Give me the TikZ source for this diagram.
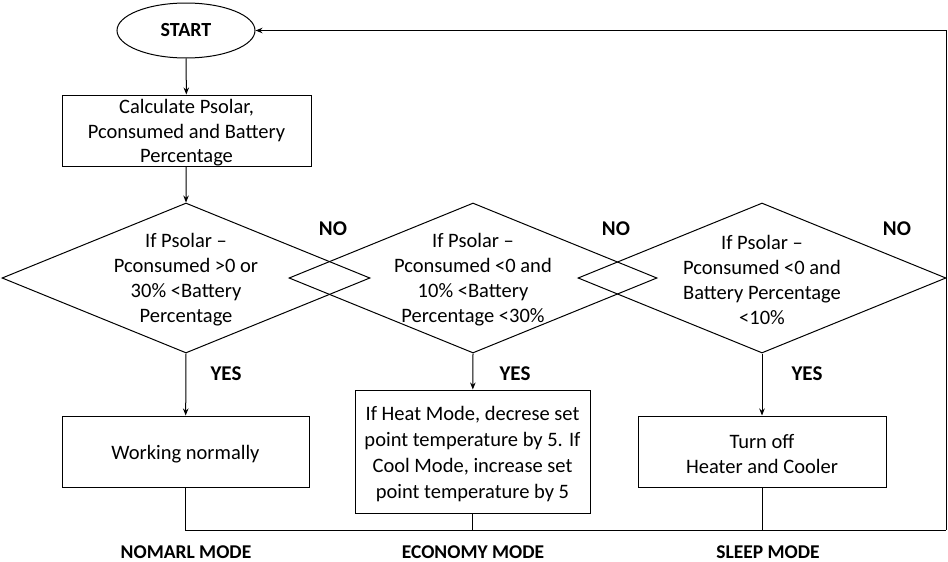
\documentclass[tikz,border=0pt]{standalone}
\usepackage{fontspec}
\setmainfont{Carlito}
\usetikzlibrary{shapes.geometric,arrows.meta}
\begin{document}
\begin{tikzpicture}[x=1pt,y=-1pt,line width=1pt,
  box/.style={draw,rectangle,inner sep=0pt},
  ptext/.style={align=center,inner sep=0pt,font=\fontsize{20.5}{24.5}\selectfont},
  decision/.style={draw,diamond,inner sep=0pt,minimum width=368pt,minimum height=150pt},
  dtext/.style={align=center,inner sep=0pt,font=\fontsize{20.5}{25}\selectfont},
  tag/.style={inner sep=0pt,font=\fontsize{21}{24}\selectfont\bfseries},
  mode/.style={inner sep=0pt,font=\fontsize{19.5}{22}\selectfont\bfseries},
  arr/.style={-{Stealth[length=7pt,width=5.5pt]}}]
\useasboundingbox (0,0) rectangle (948,562);

% start and first process
\node[draw,ellipse,minimum width=138pt,minimum height=55pt,inner sep=0pt,
      font=\fontsize{20}{22}\selectfont\bfseries] (start) at (186,30.5) {START};
\node[box,minimum width=249pt,minimum height=71pt] (calc) at (186.5,130.5) {};
\node[ptext] (calcT) at (186.5,133) {Calculate Psolar,\\Pconsumed and Battery\\Percentage};

% three decisions
\node[decision] (d1) at (186,278) {};
\node[decision] (d2) at (473,278) {};
\node[decision] (d3) at (762,278) {};
\node[dtext] (t1) at (186,280) {If Psolar --\\Pconsumed >0 or\\30\% <Battery\\Percentage};
\node[dtext] (t2) at (473,280) {If Psolar --\\Pconsumed <0 and\\10\% <Battery\\Percentage <30\%};
\node[dtext] (t3) at (762,280) {If Psolar --\\Pconsumed <0 and\\Battery Percentage\\<10\%};

% actions
\node[box,minimum width=247pt,minimum height=71pt] (work) at (185.5,451.5) {};
\node[ptext] (workT) at (185.5,454) {Working normally};
\node[box,minimum width=235pt,minimum height=123pt] (eco) at (472.5,451.5) {};
\node[ptext,font=\fontsize{20.5}{26}\selectfont] (ecoT) at (472.5,454)
  {If Heat Mode, decrese set\\point temperature by 5. If\\Cool Mode, increase set\\point temperature by 5};
\node[box,minimum width=248pt,minimum height=71pt] (sleep) at (762,451.5) {};
\node[ptext] (sleepT) at (762,454) {Turn off\\Heater and Cooler};

% labels
\node[tag] (no1) at (333,229) {NO};
\node[tag] (no2) at (616,229) {NO};
\node[tag] (no3) at (897,229) {NO};
\node[tag] (y1) at (226,374) {YES};
\node[tag] (y2) at (515,374) {YES};
\node[tag] (y3) at (807,374) {YES};
\node[mode] (m1) at (186,552) {NOMARL MODE};
\node[mode] (m2) at (473,552) {ECONOMY MODE};
\node[mode] (m3) at (768,552) {SLEEP MODE};

% flow
\draw[arr] (start) -- (calc);
\draw[arr] (calc) -- (d1.north);
\draw[arr] (d1.south) -- (work);
\draw[arr] (d2.south) -- (eco);
\draw[arr] (d3.south) -- (sleep);

% return path
\coordinate (br) at (946,530);
\coordinate (tr) at (946,30.5);
\draw (work.south) |- (br);
\draw (eco.south) -- (eco.south |- br);
\draw (sleep.south) -- (sleep.south |- br);
\draw[arr] (br) -- (tr) -- (start.east);
\end{tikzpicture}
\end{document}
